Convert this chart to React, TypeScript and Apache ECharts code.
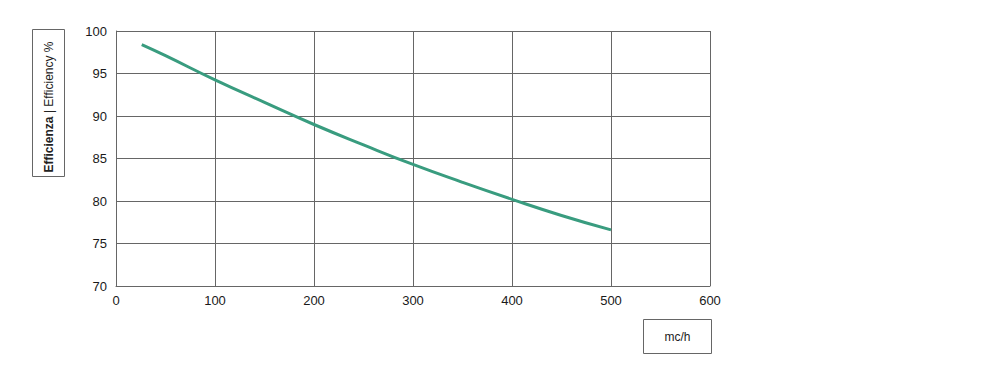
import React, { useEffect, useRef } from "react";
import * as echarts from "echarts";

const flowRates = [26, 50, 100, 150, 200, 250, 300, 350, 400, 450, 500];
const efficiency = [98.4, 97.1, 94.25, 91.6, 89.0, 86.6, 84.3, 82.2, 80.2, 78.3, 76.6];
const yAxisTitleBold = "Efficienza";
const yAxisTitleRest = "| Efficiency %";
const xAxisTitle = "mc/h";

export default function App() {
  const ref = useRef<HTMLDivElement>(null);
  useEffect(() => {
    if (!ref.current) return;
    const chart = echarts.init(ref.current, null, { renderer: "svg" });
    const font = "'Liberation Sans', Arial, sans-serif";
    chart.setOption({
      animation: false,
      grid: { left: 116, top: 31, right: 290, bottom: 94, containLabel: false },
      xAxis: {
        type: "value",
        min: 0,
        max: 600,
        interval: 100,
        axisLine: { show: true, lineStyle: { color: "#666", width: 1 } },
        axisTick: { show: false },
        splitLine: { show: true, lineStyle: { color: "#666", width: 1 } },
        axisLabel: { color: "#1a1a1a", fontSize: 13, fontFamily: font, margin: 8 },
      },
      yAxis: {
        type: "value",
        min: 70,
        max: 100,
        interval: 5,
        axisLine: { show: true, lineStyle: { color: "#666", width: 1 } },
        axisTick: { show: false },
        splitLine: { show: true, lineStyle: { color: "#666", width: 1 } },
        axisLabel: { color: "#1a1a1a", fontSize: 13, fontFamily: font, margin: 9 },
      },
      series: [
        {
          type: "line",
          data: flowRates.map((x, i) => [x, efficiency[i]]),
          smooth: true,
          showSymbol: false,
          lineStyle: { color: "#399c7f", width: 3 },
        },
      ],
      graphic: [
        {
          type: "rect",
          shape: { x: 32.5, y: 29.5, width: 32, height: 147 },
          style: { fill: "#fff", stroke: "#666", lineWidth: 1 },
        },
        {
          type: "text",
          x: 48.5,
          y: 107,
          rotation: Math.PI / 2,
          style: {
            text: `{b|${yAxisTitleBold}} {n|${yAxisTitleRest}}`,
            align: "center",
            verticalAlign: "middle",
            rich: {
              b: { fontSize: 12, fontWeight: "bold", fontFamily: font, fill: "#222" },
              n: { fontSize: 12, fontFamily: font, fill: "#222" },
            },
          },
        },
        {
          type: "rect",
          shape: { x: 643.5, y: 319.5, width: 68, height: 34 },
          style: { fill: "#fff", stroke: "#666", lineWidth: 1 },
        },
        {
          type: "text",
          x: 677.5,
          y: 337,
          style: {
            text: xAxisTitle,
            align: "center",
            verticalAlign: "middle",
            fontSize: 12,
            fontFamily: font,
            fill: "#222",
          },
        },
      ],
    });
    return () => chart.dispose();
  }, []);
  return (
    <div
      ref={ref}
      style={{ position: "fixed", left: 0, top: 0, width: 1000, height: 380, background: "#fff" }}
    />
  );
}
